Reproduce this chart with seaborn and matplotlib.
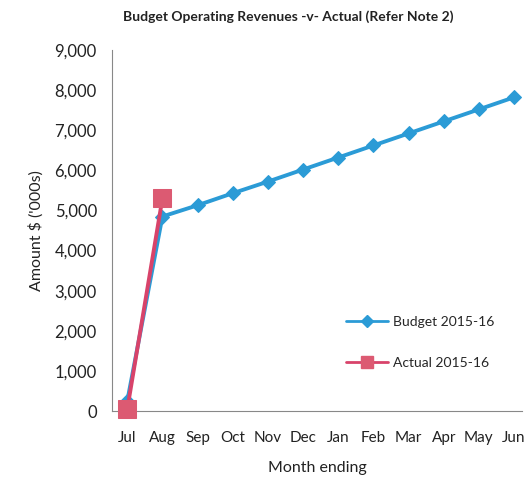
import matplotlib
matplotlib.use("Agg")
import matplotlib.pyplot as plt
from matplotlib.lines import Line2D
import seaborn as sns
import pandas as pd
import numpy as np

months = ["Jul", "Aug", "Sep", "Oct", "Nov", "Dec", "Jan", "Feb", "Mar", "Apr", "May", "Jun"]
budget = [250, 4850, 5130, 5430, 5720, 6020, 6320, 6620, 6920, 7220, 7520, 7820]
actual_months = ["Jul", "Aug"]
actual = [50, 5300]

df = pd.DataFrame({
    "Month": months + actual_months,
    "Amount": budget + actual,
    "Series": ["Budget 2015-16"] * len(budget) + ["Actual 2015-16"] * len(actual),
})

BLUE = "#2b9bd6"
RED = "#d8436a"
RED_MK = "#dc5a72"

sns.set_style("white")
plt.rcParams["font.family"] = ["Lato", "DejaVu Sans"]

fig = plt.figure(figsize=(5.29, 4.9), dpi=100)
ax = fig.add_axes([0.212, 0.161, 0.775, 0.737])

palette = {"Budget 2015-16": BLUE, "Actual 2015-16": RED}
sns.lineplot(
    data=df, x="Month", y="Amount", hue="Series", style="Series",
    markers={"Budget 2015-16": "D", "Actual 2015-16": "s"},
    dashes=False, palette=palette, linewidth=2.8, markersize=8,
    ax=ax, legend=False,
)
lines = ax.get_lines()
# budget line: blue diamonds
lines[0].set_markersize(7)
lines[0].set_markeredgecolor(BLUE)
lines[0].set_zorder(2)
# actual line: red squares on top
lines[1].set_markersize(13)
lines[1].set_markerfacecolor(RED_MK)
lines[1].set_markeredgecolor(RED_MK)
lines[1].set_zorder(3)
for ln in lines:
    ln.set_clip_on(False)

ax.set_ylim(0, 9000)
ax.set_xlim(-0.43, len(months) - 1 + 0.23)
ax.set_yticks(np.arange(0, 9001, 1000))
ax.set_yticklabels([f"{v:,}" for v in range(0, 9001, 1000)], fontsize=12, color="#222222")
ax.set_xticks(range(len(months)))
ax.set_xticklabels(months, fontsize=11, color="#222222")
ax.set_xticks(np.arange(0.5, len(months) - 0.5, 1), minor=True)
ax.tick_params(axis="x", which="major", length=0, pad=14)
ax.tick_params(axis="x", which="minor", length=4, color="#888888", direction="in")
ax.tick_params(axis="y", length=5, color="#888888", direction="out", pad=6)

for side in ["top", "right"]:
    ax.spines[side].set_visible(False)
ax.spines["left"].set_color("#888888")
ax.spines["bottom"].set_color("#888888")

ax.set_xlabel("Month ending", fontsize=11.5, labelpad=12, color="#222222")
ax.set_ylabel("Amount $ ('000s)", fontsize=11.5, labelpad=8, color="#222222")
fig.text(0.545, 0.965, "Budget Operating Revenues -v- Actual (Refer Note 2)",
         ha="center", va="center", fontsize=10, fontweight="bold", color="#222222")

handles = [
    Line2D([], [], color=BLUE, linewidth=2, marker="D", markersize=6, markeredgecolor=BLUE),
    Line2D([], [], color=RED, linewidth=2, marker="s", markersize=8,
           markerfacecolor=RED_MK, markeredgecolor=RED_MK),
]
ax.legend(handles=handles, labels=["Budget 2015-16", "Actual 2015-16"],
          loc="center left", bbox_to_anchor=(0.54, 0.19), frameon=False,
          fontsize=10, labelspacing=2.1, handlelength=3, handletextpad=0.4)

plt.savefig("out.png", dpi=100)
plt.close()
